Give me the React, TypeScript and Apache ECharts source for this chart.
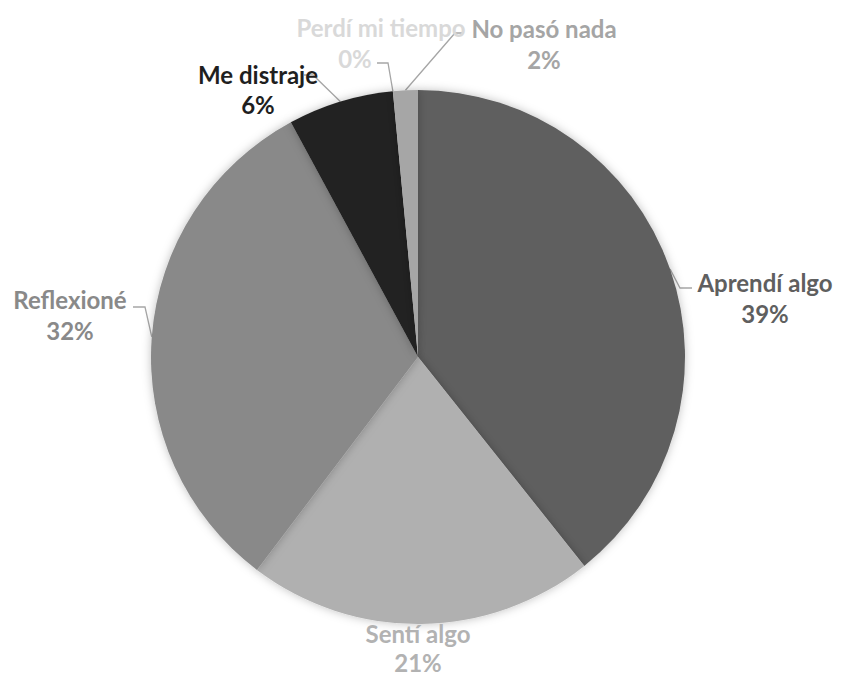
import React, { useEffect, useRef } from "react";
import * as echarts from "echarts";

const categories = ["Aprendí algo", "Sentí algo", "Reflexioné", "Me distraje", "Perdí mi tiempo", "No pasó nada"];
const values = [39.3, 21.0, 31.8, 6.4, 0, 1.5];
const sliceColors = ["#5f5f5f", "#b0b0b0", "#898989", "#232323", "#d9d9d9", "#a6a6a6"];
const labelColors = ["#5f5f5f", "#b2b2b2", "#898989", "#1f1f1f", "#d9d9d9", "#a5a5a5"];

// label block centers, elbow points, line heights and second-line shift (layout only)
const labelCenters: [number, number][] = [
  [765, 298], [418, 648], [70, 315], [258, 89], [381, 43], [544, 44],
];
const elbows: ([number, number][] | null)[] = [
  [[680, 288], [692, 288]],
  null,
  [[145, 307], [133, 307]],
  [[313, 75], [304, 75]],
  [[388, 63], [377, 63]],
  [[455, 33], [463, 33]],
];
const lineHeights = [31, 29, 31, 30, 31, 31];
const pctShiftLeft = [0, 0, 0, 0, 52, 0];

export default function App() {
  const ref = useRef<HTMLDivElement>(null);
  useEffect(() => {
    document.body.style.margin = "0";
    const chart = echarts.init(ref.current!, null, { renderer: "svg" });
    chart.setOption({
      animation: false,
      backgroundColor: "#ffffff",
      series: [
        {
          type: "pie",
          center: [418, 357],
          radius: 267,
          startAngle: 90,
          clockwise: true,
          avoidLabelOverlap: false,
          minShowLabelAngle: 0,
          z: 2,
          itemStyle: {
            shadowBlur: 10,
            shadowColor: "rgba(0,0,0,0.25)",
          },
          label: {
            show: true,
            position: "outside",
            fontFamily: "Lato",
            fontWeight: "bold",
            fontSize: 24,
            align: "center",
            formatter: (p: any) => `${p.name}\n{p|${Math.round(p.value)}%}`,
          },
          labelLine: {
            show: true,
            lineStyle: { color: "#a6a6a6", width: 1.3 },
          },
          emphasis: { disabled: true },
          labelLayout: (params: any) => {
            const i = params.dataIndex;
            const c = labelCenters[i];
            const res: any = { x: c[0], y: c[1], align: "center", verticalAlign: "middle" };
            const e = elbows[i];
            if (e && params.labelLinePoints) {
              res.labelLinePoints = [params.labelLinePoints[0], e[0], e[1]];
            }
            return res;
          },
          data: categories.map((name, i) => ({
            name,
            value: values[i],
            itemStyle: { color: sliceColors[i] },
            label: {
              color: labelColors[i],
              lineHeight: lineHeights[i],
              rich: {
                p: {
                  color: labelColors[i],
                  fontFamily: "Lato",
                  fontWeight: "bold",
                  fontSize: 24,
                  lineHeight: lineHeights[i],
                  padding: [0, pctShiftLeft[i], 0, 0],
                },
              },
            },
            labelLine: { show: elbows[i] !== null },
          })),
        },
      ],
    });
    return () => chart.dispose();
  }, []);
  return <div ref={ref} style={{ width: 841, height: 678 }} />;
}
